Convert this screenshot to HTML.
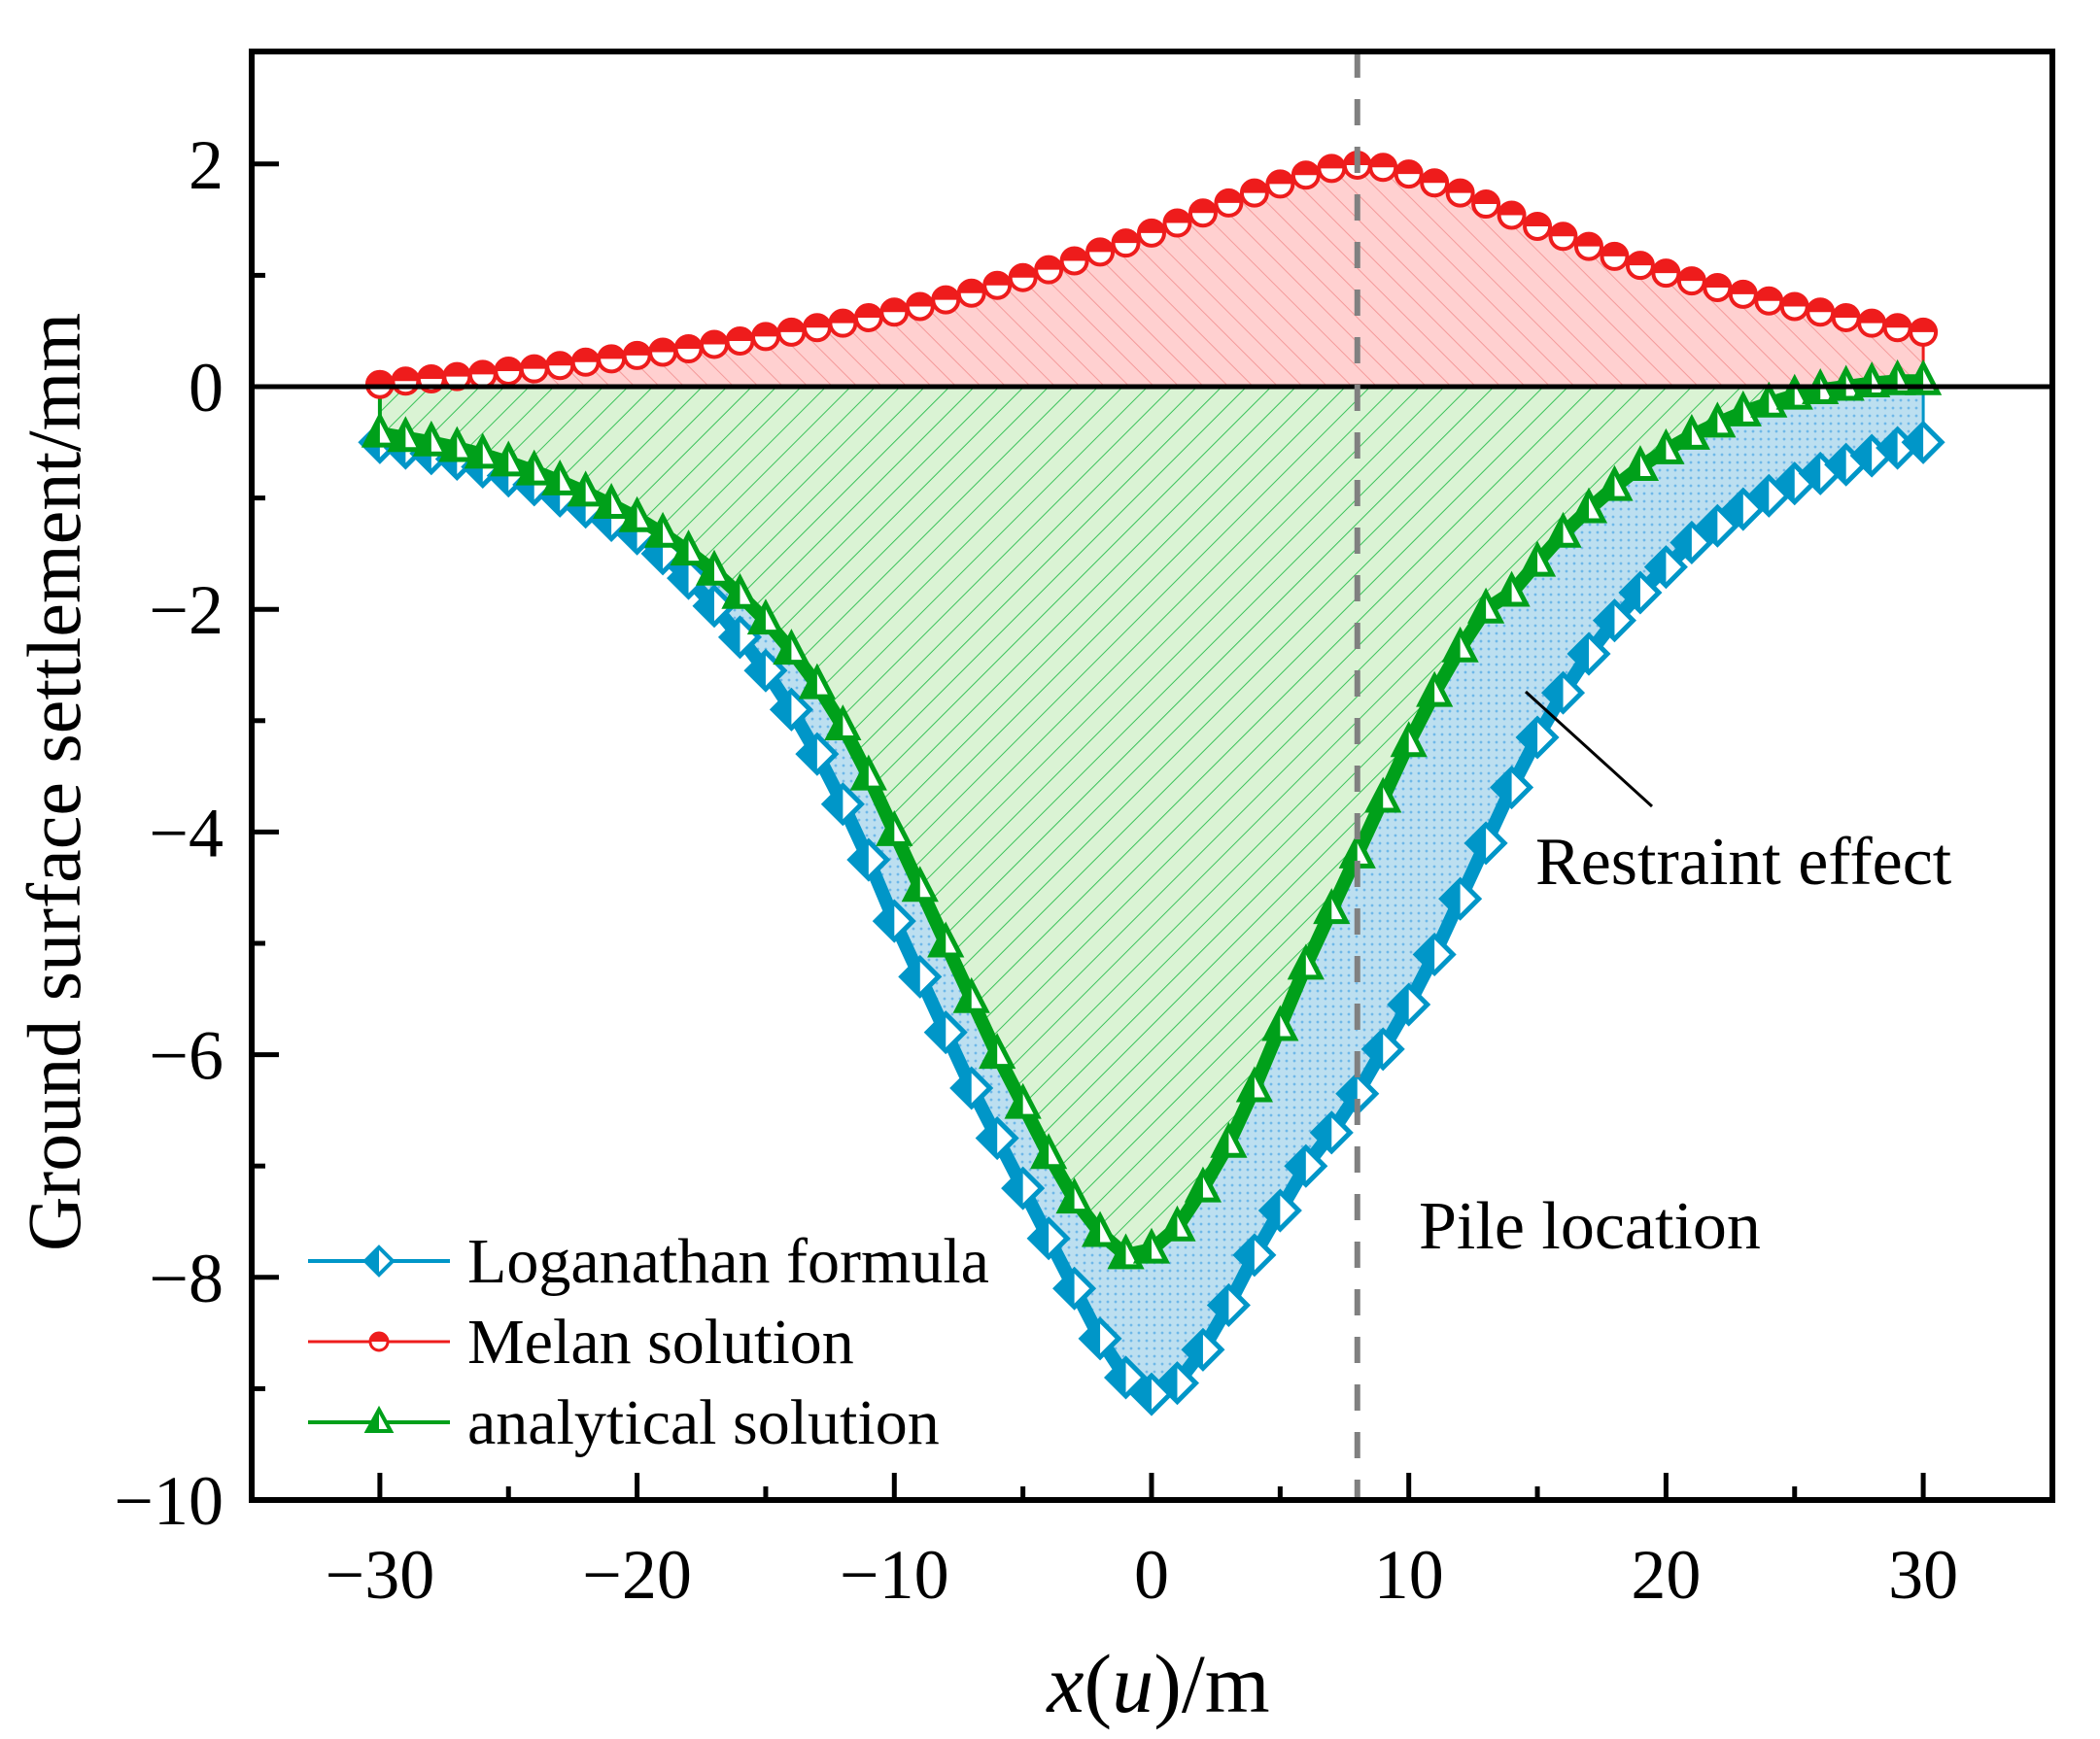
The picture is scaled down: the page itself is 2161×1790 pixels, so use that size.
<!DOCTYPE html>
<html><head><meta charset="utf-8"><style>
html,body{margin:0;padding:0;background:#fff;}
svg{display:block;font-family:"Liberation Serif",serif;}
</style></head><body>
<svg id="chart" width="2161" height="1790" viewBox="0 0 2161 1790">
<defs>
<pattern id="hatchRed" width="18" height="18" patternUnits="userSpaceOnUse" patternTransform="rotate(-45)">
<rect width="18" height="18" fill="#ffd0d0"/><line x1="0" y1="0" x2="0" y2="18" stroke="#f49a9a" stroke-width="2"/></pattern>
<pattern id="hatchGreen" width="18" height="18" patternUnits="userSpaceOnUse" patternTransform="rotate(45)">
<rect width="18" height="18" fill="#daf3d4"/><line x1="0" y1="0" x2="0" y2="18" stroke="#3bc25a" stroke-width="2"/></pattern>
<pattern id="dotsBlue" width="8" height="8" patternUnits="userSpaceOnUse">
<rect width="8" height="8" fill="#bcdff0"/><circle cx="4" cy="4" r="1.4" fill="#6fb8e8"/></pattern>
</defs>
<g id="areas"></g>
<g id="lines"></g>
<g id="axes"></g>
<g id="labels"></g>
</svg>
<script>
const xValues = [-30,-29,-28,-27,-26,-25,-24,-23,-22,-21,-20,-19,-18,-17,-16,-15,-14,-13,-12,-11,-10,-9,-8,-7,-6,-5,-4,-3,-2,-1,0,1,2,3,4,5,6,7,8,9,10,11,12,13,14,15,16,17,18,19,20,21,22,23,24,25,26,27,28,29,30];
const loganathan = [-0.5,-0.55,-0.6,-0.65,-0.72,-0.8,-0.88,-0.98,-1.08,-1.2,-1.32,-1.5,-1.72,-1.97,-2.25,-2.55,-2.9,-3.3,-3.75,-4.25,-4.8,-5.3,-5.8,-6.3,-6.75,-7.2,-7.65,-8.1,-8.55,-8.9,-9.05,-8.95,-8.65,-8.25,-7.8,-7.4,-7.0,-6.7,-6.35,-5.95,-5.55,-5.1,-4.6,-4.1,-3.6,-3.15,-2.75,-2.4,-2.1,-1.85,-1.62,-1.4,-1.25,-1.1,-0.98,-0.87,-0.78,-0.7,-0.62,-0.55,-0.5];
const melan = [0.02,0.05,0.07,0.09,0.11,0.14,0.16,0.19,0.22,0.25,0.28,0.31,0.34,0.38,0.41,0.45,0.49,0.53,0.57,0.62,0.67,0.72,0.78,0.84,0.91,0.98,1.05,1.13,1.21,1.29,1.38,1.47,1.56,1.65,1.74,1.82,1.9,1.96,1.99,1.97,1.91,1.83,1.74,1.64,1.54,1.44,1.35,1.26,1.17,1.09,1.02,0.95,0.89,0.83,0.77,0.72,0.67,0.62,0.57,0.53,0.49];
const analytical = [-0.42,-0.46,-0.5,-0.55,-0.61,-0.68,-0.76,-0.85,-0.95,-1.06,-1.18,-1.32,-1.48,-1.66,-1.87,-2.1,-2.37,-2.68,-3.05,-3.5,-4.0,-4.5,-5.0,-5.5,-6.0,-6.45,-6.9,-7.3,-7.6,-7.8,-7.75,-7.55,-7.2,-6.8,-6.3,-5.75,-5.2,-4.7,-4.2,-3.7,-3.2,-2.75,-2.35,-2.0,-1.85,-1.58,-1.32,-1.1,-0.9,-0.72,-0.57,-0.44,-0.33,-0.23,-0.15,-0.08,-0.03,0.0,0.03,0.05,0.05];
const xTicks = [-30,-20,-10,0,10,20,30];
const xTickLabels = ["\u221230","\u221220","\u221210","0","10","20","30"];
const yTicks = [2,0,-2,-4,-6,-8,-10];
const yTickLabels = ["2","0","\u22122","\u22124","\u22126","\u22128","\u221210"];
const pileX = 8;

const L=259,R=2112,T=53,B=1544;
const sx = v => 1185 + (v)*26.47;
const sy = v => 398 - v*114.6;
const NS="http://www.w3.org/2000/svg";
function mk(tag, parent, attrs){const e=document.createElementNS(NS,tag);for(const k in attrs)e.setAttribute(k,attrs[k]);parent.appendChild(e);return e;}
const areas=document.getElementById('areas'), lines=document.getElementById('lines'), axes=document.getElementById('axes'), labels=document.getElementById('labels');

function pts(arr){return xValues.map((x,i)=>sx(x).toFixed(1)+','+sy(arr[i]).toFixed(1));}
let p = mk('polygon',areas,{points:[sx(xValues[0])+','+sy(0)].concat(pts(melan)).concat([sx(xValues[xValues.length-1])+','+sy(0)]).join(' '),fill:'url(#hatchRed)'});


p = mk('polygon',areas,{points:pts(analytical).concat(pts(loganathan).reverse()).join(' '),fill:'url(#dotsBlue)'});


p = mk('polygon',areas,{points:[sx(xValues[0])+','+sy(0)].concat(pts(analytical)).concat([sx(xValues[xValues.length-1])+','+sy(0)]).join(' '),fill:'url(#hatchGreen)'});


mk('line',areas,{x1:sx(-30),y1:sy(0),x2:sx(-30),y2:sy(analytical[0]),stroke:'#00a01a','stroke-width':4});
mk('line',areas,{x1:sx(30),y1:sy(0),x2:sx(30),y2:sy(melan[melan.length-1]),stroke:'#ee1c1c','stroke-width':3});
mk('line',areas,{x1:sx(30),y1:sy(0),x2:sx(30),y2:sy(loganathan[loganathan.length-1]),stroke:'#0096c8','stroke-width':3});

function drawSeries(arr,color,shape,name){
  const g=mk('g',lines,{});
  
  
  const ln=mk('polyline',g,{points:pts(arr).join(' '),fill:'none',stroke:color,'stroke-width':(shape==='circle'?4:14),'stroke-linejoin':'round'});
  
  
  xValues.forEach((x,i)=>{
    const cx=sx(x), cy=sy(arr[i]);
    let m;
    if(shape==='circle'){
      m=mk('g',g,{});
      mk('circle',m,{cx:cx,cy:cy,r:13,fill:'#fff',stroke:color,'stroke-width':4});
      mk('path',m,{d:`M${cx-13},${cy} A13,13 0 0 1 ${cx+13},${cy} Z`,fill:color});
    } else if(shape==='diamond'){
      m=mk('g',g,{});
      mk('polygon',m,{points:`${cx},${cy-19} ${cx+19},${cy} ${cx},${cy+19} ${cx-19},${cy}`,fill:'#fff',stroke:color,'stroke-width':5});
      mk('polygon',m,{points:`${cx},${cy-19} ${cx},${cy+19} ${cx-19},${cy}`,fill:color});
    } else {
      m=mk('g',g,{});
      mk('polygon',m,{points:`${cx},${cy-17} ${cx+15},${cy+12} ${cx-15},${cy+12}`,fill:'#fff',stroke:color,'stroke-width':5});
      mk('polygon',m,{points:`${cx},${cy-17} ${cx},${cy+12} ${cx-15},${cy+12}`,fill:color});
    }
    
    
  });
}
drawSeries(loganathan,'#0096c8','diamond','loganathan');
drawSeries(analytical,'#00a01a','triangle','analytical');
drawSeries(melan,'#ee1c1c','circle','melan');

let zl=mk('line',axes,{x1:L,y1:sy(0),x2:R,y2:sy(0),stroke:'#000','stroke-width':5});


let pl=mk('line',axes,{x1:sx(pileX),y1:T,x2:sx(pileX),y2:B,stroke:'#808080','stroke-width':6,'stroke-dasharray':'27,22'});


let fr=mk('rect',axes,{x:L,y:T,width:R-L,height:B-T,fill:'none',stroke:'#000','stroke-width':6});


for(let v=-30;v<=30;v+=5){
  const len = (v%10===0)?28:14;
  const t=mk('line',axes,{x1:sx(v),y1:B,x2:sx(v),y2:B-len,stroke:'#000','stroke-width':5});
  
  
}
for(let v=-10;v<=2;v+=1){
  const len = (v%2===0)?28:14;
  const t=mk('line',axes,{x1:L,y1:sy(v),x2:L+len,y2:sy(v),stroke:'#000','stroke-width':5});
  
  
}
xTicks.forEach((v,i)=>{
  const t=mk('text',labels,{x:sx(v),y:1645,'font-size':72,'text-anchor':'middle'});
  t.textContent=xTickLabels[i];
  
  
});
yTicks.forEach((v,i)=>{
  const t=mk('text',labels,{x:230,y:sy(v)+25,'font-size':72,'text-anchor':'end'});
  t.textContent=yTickLabels[i];
  
  
});
</script>
<script>
(function(){
const NS="http://www.w3.org/2000/svg";
const labels=document.getElementById('labels');
const svgText = `
<text x="82" y="805" font-size="78" text-anchor="middle" transform="rotate(-90 82 805)">Ground surface settlement/mm</text>
<text x="1192" y="1762" font-size="86" text-anchor="middle"><tspan font-style="italic">x</tspan>(<tspan font-style="italic">u</tspan>)/m</text>
<text x="1580" y="910" font-size="70">Restraint effect</text>
<line x1="1570" y1="712" x2="1700" y2="830" stroke="#000" stroke-width="3"/>
<text x="1460" y="1285" font-size="70">Pile location</text>
<g>
 <g>
  <line x1="317" y1="1298" x2="463" y2="1298" stroke="#0096c8" stroke-width="4"/>
  <polygon points="390,1284 404,1298 390,1312 376,1298" fill="#fff" stroke="#0096c8" stroke-width="4"/>
  <polygon points="390,1284 390,1312 376,1298" fill="#0096c8"/>
  <text x="481" y="1320" font-size="66">Loganathan formula</text>
 </g>
 <g>
  <line x1="317" y1="1381" x2="463" y2="1381" stroke="#ee1c1c" stroke-width="3"/>
  <circle cx="390" cy="1381" r="9" fill="#fff" stroke="#ee1c1c" stroke-width="3"/>
  <path d="M381,1381 A9,9 0 0 1 399,1381 Z" fill="#ee1c1c"/>
  <text x="481" y="1403" font-size="66">Melan solution</text>
 </g>
 <g>
  <line x1="317" y1="1464" x2="463" y2="1464" stroke="#00a01a" stroke-width="4"/>
  <polygon points="390,1451 402,1473 378,1473" fill="#fff" stroke="#00a01a" stroke-width="4"/>
  <polygon points="390,1451 390,1473 378,1473" fill="#00a01a"/>
  <text x="481" y="1486" font-size="66">analytical solution</text>
 </g>
</g>`;
const tmp=document.createElementNS(NS,'g');
tmp.innerHTML=svgText;
while(tmp.firstChild) labels.appendChild(tmp.firstChild);
})();
</script>
</body></html>
